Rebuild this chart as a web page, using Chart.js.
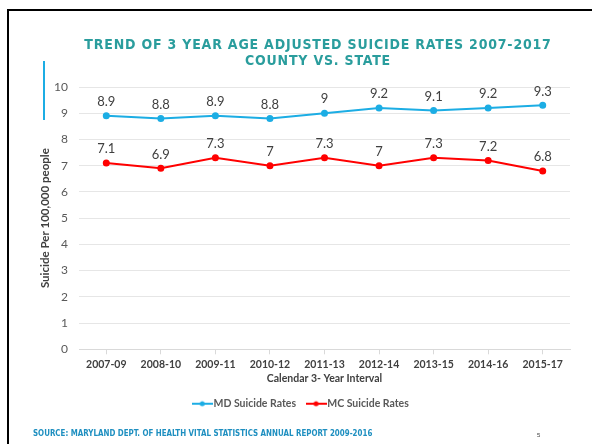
<!DOCTYPE html>
<html>
<head>
<meta charset="utf-8">
<script src="https://cdn.jsdelivr.net/npm/chart.js@4.4.0/dist/chart.umd.min.js"></script>
<style>
  html, body { margin: 0; padding: 0; background: #fff; }
  #slide { position: relative; width: 592px; height: 444px; overflow: hidden; }
  #frame { position: absolute; left: 7px; top: 9px; right: -4px; bottom: -4px;
           border-top: 2px solid #000; border-left: 2px solid #000; }
  #accent { position: absolute; left: 43px; top: 61px; width: 2px; height: 59px; background: #1cade4; }
  #title { position: absolute; left: 60px; width: 516px; top: 36px; text-align: center;
           font-family: "Liberation Sans Narrow", "DejaVu Sans Condensed", sans-serif;
           font-weight: bold; font-size: 14px; line-height: 16px; letter-spacing: 0.8px; color: #2a9d9d; }
  #source { position: absolute; left: 33px; top: 427px; white-space: nowrap;
            transform: scaleX(0.83); transform-origin: left center;
            font-family: "Liberation Sans Narrow", "DejaVu Sans Condensed", sans-serif;
            font-weight: bold; font-size: 9.5px; color: #1e8fc0; }
  #page { position: absolute; left: 537px; top: 432px; font-family: "Liberation Sans Narrow", sans-serif;
          font-size: 6px; color: #404040; }
  #wrap { position: absolute; left: 0; top: 0; width: 592px; height: 444px; }
</style>
</head>
<body>
<div id="slide">
  <div id="wrap"><canvas id="myChart"></canvas></div>
  <div id="frame"></div>
  <div id="accent"></div>
  <div id="title">TREND OF 3 YEAR AGE ADJUSTED SUICIDE RATES 2007-2017<br>COUNTY VS. STATE</div>
  <div id="source">SOURCE: MARYLAND DEPT. OF HEALTH VITAL STATISTICS ANNUAL REPORT 2009-2016</div>
  <div id="page">5</div>
</div>
<script>
const categories = ['2007-09', '2008-10', '2009-11', '2010-12', '2011-13', '2012-14', '2013-15', '2014-16', '2015-17'];
const mdRates = [8.9, 8.8, 8.9, 8.8, 9, 9.2, 9.1, 9.2, 9.3];
const mcRates = [7.1, 6.9, 7.3, 7, 7.3, 7, 7.3, 7.2, 6.8];
const seriesNames = ['MD Suicide Rates', 'MC Suicide Rates'];
const yMin = 0, yMax = 10, yStep = 1;

const blue = '#1cade4';
const red = '#ff0000';
const fontFamily = 'Lato, "Open Sans", sans-serif';

// marqueur de légende : ligne + point
function legendMarker(color) {
    const c = document.createElement('canvas');
    c.width = 21; c.height = 8;
    const ctx = c.getContext('2d');
    ctx.strokeStyle = color;
    ctx.lineWidth = 2;
    ctx.beginPath();
    ctx.moveTo(0, 4); ctx.lineTo(21, 4);
    ctx.stroke();
    ctx.fillStyle = color;
    ctx.beginPath();
    ctx.arc(10.5, 4, 2.5, 0, Math.PI * 2);
    ctx.fill();
    return c;
}
const markers = [legendMarker(blue), legendMarker(red)];

// étiquettes de valeurs au-dessus des points
const valueLabels = {
    id: 'valueLabels',
    afterDatasetsDraw(chart) {
        const ctx = chart.ctx;
        ctx.save();
        ctx.font = '13px ' + fontFamily;
        ctx.fillStyle = '#404040';
        ctx.textAlign = 'center';
        ctx.textBaseline = 'middle';
        chart.data.datasets.forEach((ds, i) => {
            chart.getDatasetMeta(i).data.forEach((pt, j) => {
                ctx.fillText(String(ds.data[j]), pt.x, pt.y - 14);
            });
        });
        ctx.restore();
    }
};

new Chart(document.getElementById('myChart'), {
    type: 'line',
    data: {
        labels: categories,
        datasets: [{
            label: seriesNames[0],
            data: mdRates,
            borderColor: blue,
            backgroundColor: blue,
            borderWidth: 2,
            pointRadius: 2.5,
            tension: 0
        }, {
            label: seriesNames[1],
            data: mcRates,
            borderColor: red,
            backgroundColor: red,
            borderWidth: 2,
            pointRadius: 2.5,
            tension: 0
        }]
    },
    options: {
        responsive: true,
        maintainAspectRatio: false,
        animation: false,
        layout: { padding: { top: 87, left: 35, right: 22, bottom: 25 } },
        plugins: {
            title: { display: false },
            tooltip: { enabled: false },
            legend: {
                position: 'bottom',
                labels: {
                    usePointStyle: true,
                    pointStyleWidth: 12,
                    padding: 14,
                    color: '#595959',
                    font: { family: fontFamily, size: 10.5, weight: 'bold' },
                    generateLabels(chart) {
                        const items = Chart.defaults.plugins.legend.labels.generateLabels(chart);
                        items.forEach((it, i) => { it.pointStyle = markers[i]; });
                        return items;
                    }
                }
            }
        },
        scales: {
            x: {
                offset: true,
                afterFit(scale) { scale.height -= 3; },
                grid: { drawOnChartArea: false, drawTicks: true, tickLength: 5, color: '#d9d9d9' },
                border: { display: true, color: '#d9d9d9' },
                ticks: { color: '#404040', padding: 4, font: { family: fontFamily, size: 10.5, weight: 'bold' } },
                title: {
                    display: true,
                    text: 'Calendar 3- Year Interval',
                    color: '#404040',
                    padding: { top: 0, bottom: 0 },
                    font: { family: fontFamily, size: 10.5, weight: 'bold' }
                }
            },
            y: {
                min: yMin,
                max: yMax,
                afterFit(scale) { scale.width = 44; },
                grid: { color: '#e6e6e6', drawTicks: false },
                border: { display: false },
                ticks: { stepSize: yStep, padding: 11, color: '#595959', font: { family: fontFamily, size: 12 } },
                title: {
                    display: true,
                    text: 'Suicide Per 100,000 people',
                    color: '#404040',
                    padding: { top: 3, bottom: 0 },
                    font: { family: fontFamily, size: 11.5, weight: 'bold' }
                }
            }
        }
    },
    plugins: [valueLabels]
});
</script>
</body>
</html>
